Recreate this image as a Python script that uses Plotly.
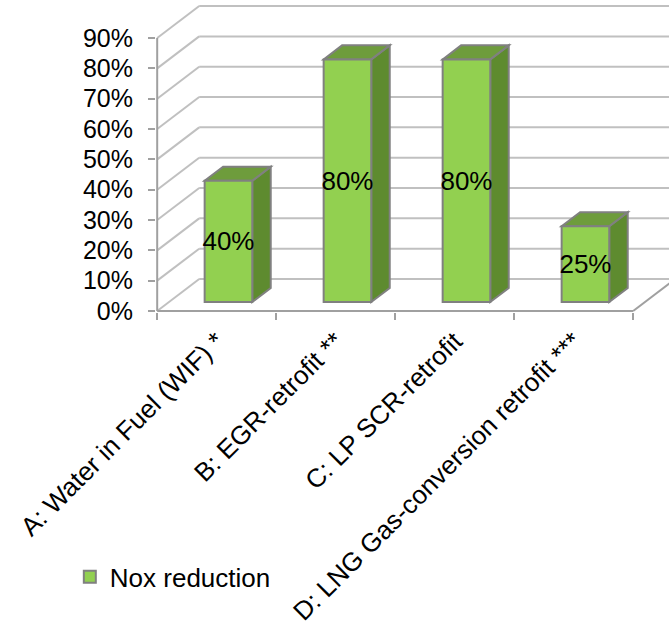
import plotly.graph_objects as go

# NOx reduction per retrofit measure
categories = [
    "A: Water in Fuel (WIF) *",
    "B: EGR-retrofit **",
    "C: LP SCR-retrofit",
    "D: LNG Gas-conversion retrofit ***",
]
nox_reduction = [40, 80, 80, 25]
y_ticks = [0, 10, 20, 30, 40, 50, 60, 70, 80, 90]

# pseudo-3D geometry in data units (x: category index, y: percent)
DEPTH_X, DEPTH_Y = 0.353, 10.55      # full depth of floor / side wall
BAR_FRONT, BAR_BACK = 0.28, 0.72     # bar position within the depth
BAR_W = 0.40
X_MIN, X_MAX = -0.51, 3.801
Y_MIN, Y_MAX = -0.33, 100.9

FRONT = "#92D050"
TOP = "#6E9C3C"
SIDE = "#5E8B2F"
EDGE = "#808080"
GRID = "#C0C0C0"
AXIS = "#A0A0A0"
FONT = "Liberation Sans, Arial, sans-serif"

n = len(categories)
x_pos = list(range(n))
shift_x = BAR_FRONT * DEPTH_X
shift_y = BAR_FRONT * DEPTH_Y
dx = (BAR_BACK - BAR_FRONT) * DEPTH_X
dy = (BAR_BACK - BAR_FRONT) * DEPTH_Y

shapes = []
left = -0.5
right = n - 0.5

# side wall / back wall gridlines
for v in y_ticks:
    shapes.append(dict(type="line", layer="below", xref="x", yref="y",
                       x0=left, y0=v, x1=left + DEPTH_X, y1=v + DEPTH_Y,
                       line=dict(color=GRID, width=2)))
    shapes.append(dict(type="line", layer="below", xref="x", yref="y",
                       x0=left + DEPTH_X, y0=v + DEPTH_Y, x1=X_MAX + 1, y1=v + DEPTH_Y,
                       line=dict(color=GRID, width=2)))

# floor right edge
shapes.append(dict(type="line", layer="below", xref="x", yref="y",
                   x0=right, y0=0, x1=right + DEPTH_X, y1=DEPTH_Y,
                   line=dict(color=AXIS, width=2)))
# front value axis and floor front edge
shapes.append(dict(type="line", layer="below", xref="x", yref="y",
                   x0=left, y0=0, x1=left, y1=y_ticks[-1],
                   line=dict(color=AXIS, width=2)))
shapes.append(dict(type="line", layer="below", xref="x", yref="y",
                   x0=left, y0=0, x1=right, y1=0,
                   line=dict(color=AXIS, width=2)))

# side and top faces of each bar
for i, v in enumerate(nox_reduction):
    L = x_pos[i] + shift_x - BAR_W / 2
    R = L + BAR_W
    b = shift_y
    t = shift_y + v
    side = f"M{R},{b} L{R + dx},{b + dy} L{R + dx},{t + dy} L{R},{t} Z"
    top = f"M{L},{t} L{R},{t} L{R + dx},{t + dy} L{L + dx},{t + dy} Z"
    shapes.append(dict(type="path", layer="below", xref="x", yref="y", path=side,
                       fillcolor=SIDE, line=dict(color=EDGE, width=2)))
    shapes.append(dict(type="path", layer="below", xref="x", yref="y", path=top,
                       fillcolor=TOP, line=dict(color=EDGE, width=2)))

fig = go.Figure()
fig.add_trace(go.Bar(
    x=x_pos,
    y=nox_reduction,
    base=[shift_y] * n,
    width=BAR_W,
    offset=shift_x - BAR_W / 2,
    name="Nox reduction",
    marker=dict(color=FRONT, line=dict(color=EDGE, width=2)),
    text=[f"{v}%" for v in nox_reduction],
    textposition="inside",
    insidetextanchor="middle",
    textangle=0,
    constraintext="none",
    textfont=dict(family=FONT, size=26, color="black"),
    showlegend=True,
    hoverinfo="skip",
))

fig.update_layout(
    width=669, height=631,
    margin=dict(l=156, r=0, t=5, b=319, autoexpand=False),
    paper_bgcolor="white", plot_bgcolor="white",
    font=dict(family=FONT, size=25, color="black"),
    shapes=shapes,
    showlegend=True,
    legend=dict(x=-0.168, y=-0.863, xanchor="left", yanchor="middle",
                font=dict(family=FONT, size=26, color="black"),
                bgcolor="rgba(0,0,0,0)"),
    xaxis=dict(
        type="linear", range=[X_MIN, X_MAX], automargin=False,
        tickvals=x_pos, ticktext=categories, tickangle=-45,
        ticks="", showgrid=False, zeroline=False, showline=False,
        ticklabelstandoff=8,
        tickfont=dict(family=FONT, size=26, color="black"),
        minor=dict(ticks="outside", tick0=-0.5, dtick=1, ticklen=7,
                   tickcolor=AXIS, tickwidth=2, showgrid=False),
    ),
    yaxis=dict(
        range=[Y_MIN, Y_MAX], automargin=False,
        tickvals=y_ticks, ticktext=[f"{v}%" for v in y_ticks],
        ticks="outside", ticklen=7, tickcolor=AXIS, tickwidth=2,
        ticklabelstandoff=10,
        showgrid=False, zeroline=False, showline=False,
        tickfont=dict(family=FONT, size=25, color="black"),
    ),
)

fig.write_html("out.html")
